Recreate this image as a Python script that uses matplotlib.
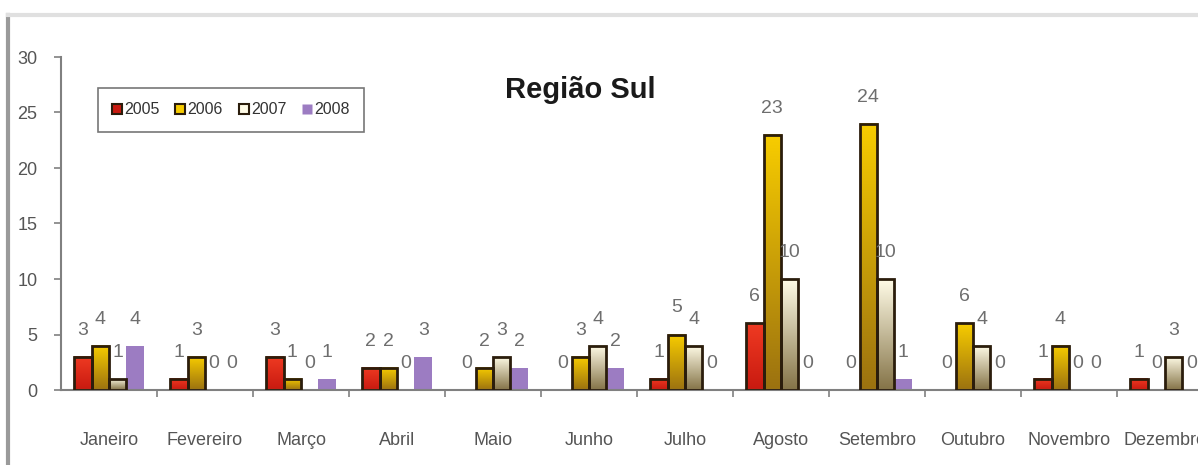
import matplotlib
matplotlib.use('Agg')
import matplotlib.pyplot as plt
import numpy as np
from matplotlib.colors import LinearSegmentedColormap
from matplotlib.patches import Rectangle
from matplotlib.lines import Line2D

plt.rcParams['font.family'] = ['Liberation Sans', 'DejaVu Sans']

meses = ['Janeiro', 'Fevereiro', 'Março', 'Abril', 'Maio', 'Junho',
         'Julho', 'Agosto', 'Setembro', 'Outubro', 'Novembro', 'Dezembro']
anos = ['2005', '2006', '2007', '2008']
v2005 = [3, 1, 3, 2, 0, 0, 1, 6, 0, 0, 1, 1]
v2006 = [4, 3, 1, 2, 2, 3, 5, 23, 24, 6, 4, 0]
v2007 = [1, 0, 0, 0, 3, 4, 4, 10, 10, 4, 0, 3]
v2008 = [4, 0, 1, 3, 2, 2, 0, 0, 1, 0, 0, 0]
series = [v2005, v2006, v2007, v2008]

# gradient colours (bottom, top) per serie; 2008 is flat
grads = [
    ('#c81a10', '#ef3a22'),
    ('#9c7210', '#f7cc00'),
    ('#857448', '#fffbe6'),
    None,
]
roxo = '#9c7cc2'
borda = '#2b1d0c'
cinza = '#6e6e6e'

W, H = 1198, 465
fig = plt.figure(figsize=(W / 100, H / 100), dpi=100)
ax = fig.add_axes([61 / W, 75 / H, 1152 / W, 333 / H])

bw = 0.182
offs = [-1.5 * bw, -0.5 * bw, 0.5 * bw, 1.5 * bw]
for s, vals in enumerate(series):
    for i, v in enumerate(vals):
        xc = i + 0.5 + offs[s]
        x0, x1 = xc - bw / 2, xc + bw / 2
        if v > 0:
            if grads[s] is not None:
                cmap = LinearSegmentedColormap.from_list('g%d' % s, grads[s])
                grad = np.linspace(0, 1, 64).reshape(-1, 1)
                ax.imshow(grad, extent=[x0, x1, 0, v], origin='lower', aspect='auto',
                          cmap=cmap, zorder=2, interpolation='bilinear')
                ax.add_patch(Rectangle((x0, 0), bw, v, fill=False, edgecolor=borda,
                                       lw=2.0, zorder=3))
            else:
                ax.add_patch(Rectangle((x0, 0), bw, v, facecolor=roxo, edgecolor='none',
                                       zorder=2))
        ax.annotate(str(v), (xc, v), xytext=(0, 13), textcoords='offset points',
                    ha='center', va='bottom', fontsize=14, color=cinza, zorder=4)

ax.set_xlim(0, 12)
ax.set_ylim(0, 30)
ax.set_yticks(range(0, 31, 5))
ax.set_xticks(np.arange(12) + 0.5)
ax.set_xticklabels(meses)
ax.set_xticks(np.arange(1, 12), minor=True)
ax.tick_params(axis='x', which='major', length=0, pad=30, labelsize=13, labelcolor='#555555')
ax.tick_params(axis='x', which='minor', length=5, width=1.2, color='#808080')
ax.tick_params(axis='y', length=5, width=1.2, color='#808080', pad=12,
               labelsize=13, labelcolor='#555555')
for sp in ['top', 'right']:
    ax.spines[sp].set_visible(False)
for sp in ['left', 'bottom']:
    ax.spines[sp].set_color('#808080')
    ax.spines[sp].set_linewidth(1.5)

fig.text(580 / W, 1 - 90 / H, 'Região Sul', ha='center', va='center',
         fontsize=21, fontweight='bold', color='#1a1a1a')

handles = []
for s in range(4):
    if grads[s] is not None:
        handles.append(Line2D([], [], ls='none', marker='s', ms=7,
                              mfc=grads[s][1] if s else grads[s][0], mec=borda, mew=1.5))
    else:
        handles.append(Line2D([], [], ls='none', marker='s', ms=7, mfc=roxo, mec='none'))
leg = fig.legend(handles, anos, loc='center', bbox_to_anchor=(231 / W, 1 - 110 / H),
                 ncol=4, fontsize=11.5, frameon=True, fancybox=False, handlelength=0.6,
                 handletextpad=0.15, columnspacing=1.0, borderpad=0.9)
leg.get_frame().set_edgecolor('#555555')
leg.get_frame().set_linewidth(1.2)
for t in leg.get_texts():
    t.set_color('#333333')

# frame around the picture
fig.add_artist(Line2D([8 / W, 8 / W], [0, 1 - 15 / H], color='#9a9a9a', lw=3,
                      transform=fig.transFigure))
fig.add_artist(Line2D([8 / W, 1], [1 - 15 / H, 1 - 15 / H], color='#e0e0e0', lw=3,
                      transform=fig.transFigure))

fig.savefig('out.png', dpi=100)
